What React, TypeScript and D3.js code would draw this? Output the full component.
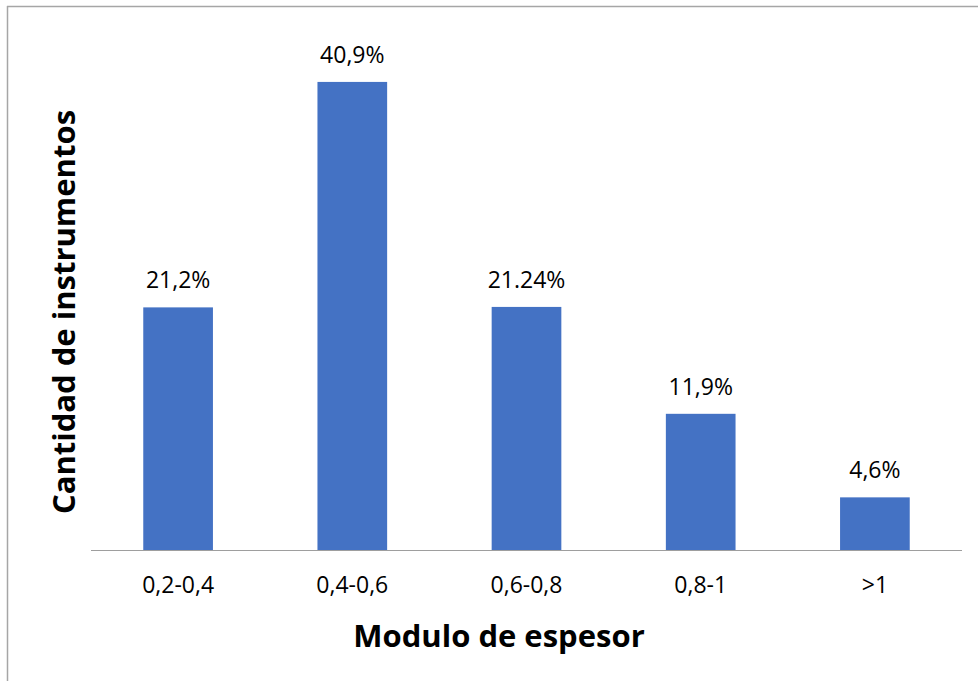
import React from "react";
import * as d3 from "d3";

const categories = ["0,2-0,4", "0,4-0,6", "0,6-0,8", "0,8-1", ">1"];
const values = [21.2, 40.9, 21.24, 11.9, 4.6];
const labels = ["21,2%", "40,9%", "21.24%", "11,9%", "4,6%"];
const xTitle = "Modulo de espesor";
const yTitle = "Cantidad de instrumentos";

const W = 978;
const H = 681;
const plotLeft = 91;
const plotRight = 962;
const baseY = 550;
const topY = 35;

export default function App() {
  const x = d3.scaleBand<string>().domain(categories).range([plotLeft, plotRight]).paddingInner(0.6).paddingOuter(0.3);
  const y = d3.scaleLinear().domain([0, 45]).range([baseY, topY]);
  const font = "'Open Sans', sans-serif";
  return (
    <svg width={W} height={H} style={{ position: "absolute", left: 0, top: 0 }}>
      <rect x={0} y={0} width={W} height={H} fill="#fff" />
      <line x1={7.5} y1={6} x2={7.5} y2={H} stroke="#a6a6a6" strokeWidth={1.5} />
      <line x1={7} y1={6.5} x2={W} y2={6.5} stroke="#a6a6a6" strokeWidth={1.5} />
      {categories.map((c, i) => (
        <rect key={c} x={x(c)} y={y(values[i])} width={x.bandwidth()} height={baseY - y(values[i])} fill="#4472c4" />
      ))}
      <line x1={plotLeft} x2={plotRight} y1={baseY + 0.5} y2={baseY + 0.5} stroke="#9e9e9e" strokeWidth={1.2} />
      {categories.map((c, i) => (
        <text key={"l" + c} x={(x(c) as number) + x.bandwidth() / 2} y={y(values[i]) - 19} textAnchor="middle" fontFamily={font} fontSize={23} fill="#000">
          {labels[i]}
        </text>
      ))}
      {categories.map((c) => (
        <text key={"t" + c} x={(x(c) as number) + x.bandwidth() / 2} y={593} textAnchor="middle" fontFamily={font} fontSize={23} fill="#000">
          {c}
        </text>
      ))}
      <text x={499} y={647} textAnchor="middle" fontFamily={font} fontWeight="bold" fontSize={31} fill="#000">
        {xTitle}
      </text>
      <text transform={`translate(75,312) rotate(-90)`} textAnchor="middle" fontFamily={font} fontWeight="bold" fontSize={31} fill="#000">
        {yTitle}
      </text>
    </svg>
  );
}
